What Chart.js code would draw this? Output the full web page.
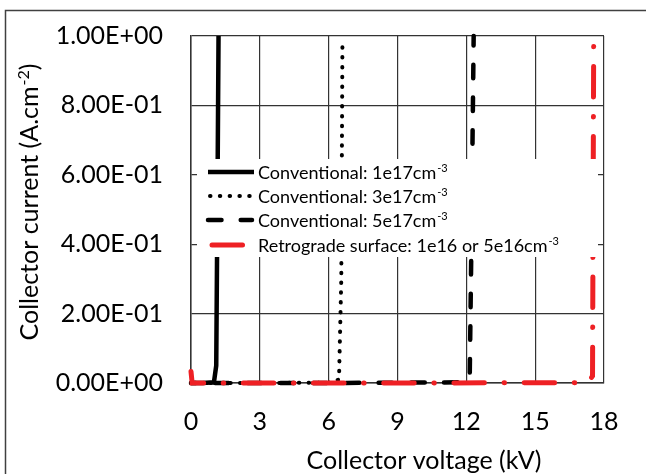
<!DOCTYPE html>
<html>
<head>
<meta charset="utf-8">
<script src="https://cdn.jsdelivr.net/npm/chart.js@4/dist/chart.umd.min.js"></script>
<style>
  html, body { margin: 0; padding: 0; background: #fff; overflow: hidden; }
  canvas { display: block; }
</style>
</head>
<body>
<canvas id="ivChart" width="646" height="474"></canvas>
<script>
// Collector voltage (kV) / collector current (A.cm-2)
const conv1Voltage = [0, 0.5, 1.0, 1.1, 1.15, 1.2];
const conv1Current = [0, 0, 0.002, 0.05, 0.5, 1.0];

const conv3Voltage = [0, 3, 6.0, 6.45, 6.55, 6.6];
const conv3Current = [0, 0, 0.001, 0.01, 0.3, 0.98];

const conv5Voltage = [0, 6, 12.0, 12.15, 12.22, 12.32];
const conv5Current = [0, 0, 0.002, 0.03, 0.4, 1.0];

const retroVoltage = [0, 0.05, 9, 17.3, 17.5, 17.55];
const retroCurrent = [0.033, 0, 0, 0.001, 0.02, 0.97];

const seriesLabels = [
  "Conventional: 1e17cm",
  "Conventional: 3e17cm",
  "Conventional: 5e17cm",
  "Retrograde surface: 1e16 or 5e16cm",
];
const seriesSup = ["-3", "-3", "-3", "-3"];

const xTicks = [0, 3, 6, 9, 12, 15, 18];
const yTicks = [0, 0.2, 0.4, 0.6, 0.8, 1.0];

const FONT = "Lato, 'Open Sans', sans-serif";
const GRID = "#333333";

function toPoints(xs, ys) {
  return xs.map((x, i) => ({ x: x, y: ys[i] }));
}

function sciLabel(value) {
  if (value === 0) return "0.00E+00";
  const exp = Math.floor(Math.log10(Math.abs(value)) + 1e-9);
  const mant = value / Math.pow(10, exp);
  const sign = exp < 0 ? "-" : "+";
  return mant.toFixed(2) + "E" + sign + String(Math.abs(exp)).padStart(2, "0");
}

// text with a raised superscript, drawn left to right from x
function drawSup(ctx, base, sup, x, y, size) {
  ctx.font = size + "px " + FONT;
  ctx.fillText(base, x, y);
  const w = ctx.measureText(base).width;
  ctx.font = Math.round(size * 0.62) + "px " + FONT;
  ctx.fillText(sup, x + w + 1, y - size * 0.38);
  return w + 1 + ctx.measureText(sup).width;
}

function supWidth(ctx, base, sup, size) {
  ctx.font = size + "px " + FONT;
  const w = ctx.measureText(base).width;
  ctx.font = Math.round(size * 0.62) + "px " + FONT;
  return w + 1 + ctx.measureText(sup).width;
}

const overlayPlugin = {
  id: "overlay",
  afterDatasetsDraw(chart) {
    const ctx = chart.ctx;
    ctx.save();
    // legend box sits over the plot and hides the lines behind it
    ctx.fillStyle = "#ffffff";
    ctx.fillRect(197, 159, 401, 98);
    const rows = [172, 196, 220, 245];
    chart.data.datasets.forEach((ds, i) => {
      const y = rows[i];
      ctx.beginPath();
      ctx.strokeStyle = ds.borderColor;
      ctx.lineWidth = ds.borderWidth;
      ctx.lineCap = ds.borderCapStyle || "butt";
      ctx.setLineDash(ds.borderDash || []);
      ctx.moveTo(ds.legendFrom, y);
      ctx.lineTo(ds.legendTo, y);
      ctx.stroke();
      ctx.setLineDash([]);
      ctx.fillStyle = "#000";
      ctx.textBaseline = "alphabetic";
      ctx.textAlign = "left";
      drawSup(ctx, seriesLabels[i], seriesSup[i], 258, y + 6.5, 18);
    });
    ctx.restore();
  },
  afterDraw(chart) {
    const ctx = chart.ctx;
    ctx.save();
    ctx.fillStyle = "#000";
    ctx.textAlign = "left";
    ctx.textBaseline = "alphabetic";

    // x axis title
    ctx.font = "25px " + FONT;
    const xt = "Collector voltage (kV)";
    const xw = ctx.measureText(xt).width;
    ctx.fillText(xt, 424 - xw / 2, 469);

    // y axis title, rotated
    const yBase = "Collector current (A.cm";
    const total = supWidth(ctx, yBase, "-2", 25);
    ctx.font = "25px " + FONT;
    const closeW = ctx.measureText(")").width;
    ctx.translate(38, 202);
    ctx.rotate(-Math.PI / 2);
    const start = -(total + closeW) / 2;
    const used = drawSup(ctx, yBase, "-2", start, 0, 25);
    ctx.font = "25px " + FONT;
    ctx.fillText(")", start + used, 0);
    ctx.restore();

    // picture frame
    ctx.save();
    ctx.strokeStyle = "#404040";
    ctx.lineWidth = 1.5;
    ctx.strokeRect(5.5, 10.5, 1000, 1000);
    ctx.restore();
  },
};

new Chart(document.getElementById("ivChart"), {
  type: "line",
  data: {
    datasets: [
      {
        label: seriesLabels[0],
        data: toPoints(conv1Voltage, conv1Current),
        borderColor: "#000000",
        borderWidth: 4.5,
        order: 1,
        legendFrom: 208,
        legendTo: 254,
      },
      {
        label: seriesLabels[1],
        data: toPoints(conv3Voltage, conv3Current),
        borderColor: "#000000",
        borderWidth: 4,
        borderDash: [0.5, 9.3],
        borderCapStyle: "round",
        order: 1,
        legendFrom: 210,
        legendTo: 251,
      },
      {
        label: seriesLabels[2],
        data: toPoints(conv5Voltage, conv5Current),
        borderColor: "#000000",
        borderWidth: 4.5,
        borderDash: [13.5, 19.2],
        borderDashOffset: 8.6,
        borderCapStyle: "round",
        order: 1,
        legendFrom: 208,
        legendTo: 252,
      },
      {
        label: seriesLabels[3],
        data: toPoints(retroVoltage, retroCurrent),
        borderColor: "#ee2024",
        borderWidth: 5,
        borderDash: [30.5, 19.6, 0.5, 19.6],
        borderDashOffset: 7.5,
        borderCapStyle: "round",
        order: 0,
        legendFrom: 212,
        legendTo: 243,
      },
    ],
  },
  options: {
    responsive: false,
    animation: false,
    devicePixelRatio: 1,
    layout: {
      padding: { left: 0, top: 36, right: 42, bottom: 0 },
    },
    datasets: {
      line: { clip: 4 },
    },
    elements: {
      point: { radius: 0 },
      line: { tension: 0, fill: false },
    },
    plugins: {
      legend: { display: false },
      tooltip: { enabled: false },
      title: { display: false },
    },
    scales: {
      x: {
        type: "linear",
        min: 0,
        max: 18,
        afterFit: (s) => { s.height = 91; },
        afterBuildTicks: (s) => { s.ticks = xTicks.map((v) => ({ value: v })); },
        ticks: {
          color: "#000",
          font: { family: FONT, size: 25 },
          padding: 0,
          maxRotation: 0,
          autoSkip: false,
        },
        // invisible tick marks just push the labels away from the axis
        grid: { color: GRID, lineWidth: 1.2, drawTicks: true, tickLength: 24, tickColor: "rgba(0,0,0,0)" },
        border: { color: GRID, width: 1.5 },
      },
      y: {
        type: "linear",
        min: 0,
        max: 1,
        afterFit: (s) => { s.width = 191; },
        afterBuildTicks: (s) => { s.ticks = yTicks.map((v) => ({ value: v })); },
        ticks: {
          color: "#000",
          font: { family: FONT, size: 25 },
          padding: 0,
          callback: (v) => sciLabel(v),
        },
        grid: { color: GRID, lineWidth: 1.2, drawTicks: true, tickLength: 28, tickColor: "rgba(0,0,0,0)" },
        border: { color: GRID, width: 1.5 },
      },
    },
  },
  plugins: [overlayPlugin],
});
</script>
</body>
</html>
